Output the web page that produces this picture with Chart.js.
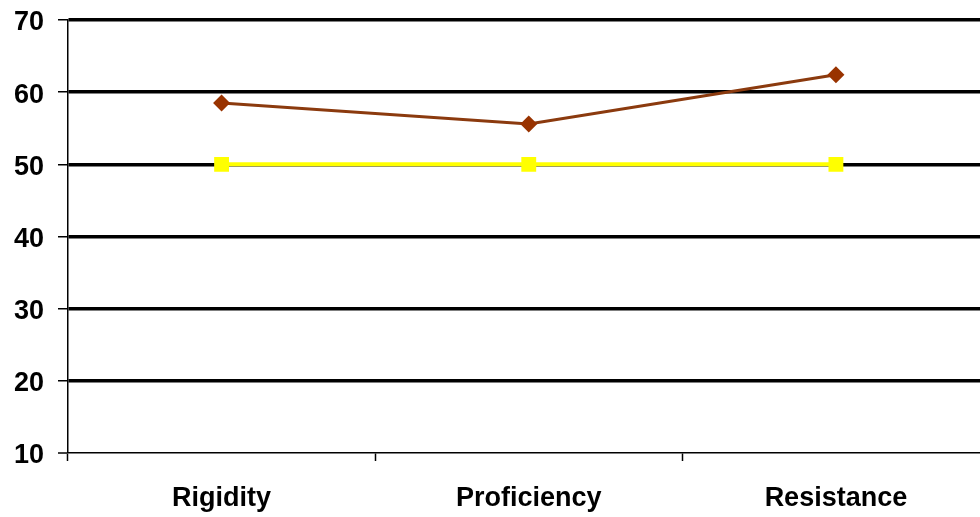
<!DOCTYPE html>
<html>
<head>
<meta charset="utf-8">
<script src="https://cdn.jsdelivr.net/npm/chart.js@4/dist/chart.umd.min.js"></script>
<style>
  html, body { margin: 0; padding: 0; background: #fff; overflow: hidden; }
  #wrap { width: 1000px; height: 517px; }
</style>
</head>
<body>
<div id="wrap"><canvas id="c" width="1000" height="517"></canvas></div>
<script>
// Categories and series values
const categories = ['Rigidity', 'Proficiency', 'Resistance'];
const scoreValues = [58.5, 55.6, 62.4];
const normValues = [50, 50, 50];
const yTicks = [10, 20, 30, 40, 50, 60, 70];

const labelFont = { family: "'Liberation Sans', Arial, sans-serif", size: 27, weight: 'bold' };

new Chart(document.getElementById('c'), {
  type: 'line',
  data: {
    labels: categories,
    datasets: [
      {
        label: 'Score',
        data: scoreValues,
        borderColor: '#8B3A0E',
        backgroundColor: '#993300',
        borderWidth: 3,
        pointStyle: 'rectRot',
        pointRadius: 8.5,
        pointBorderWidth: 0,
        tension: 0
      },
      {
        label: 'Norm',
        data: normValues,
        borderColor: '#FFFF00',
        backgroundColor: '#FFFF00',
        borderWidth: 4,
        pointStyle: 'rect',
        pointRadius: 10.5,
        pointBorderWidth: 0,
        tension: 0
      }
    ]
  },
  options: {
    responsive: false,
    animation: false,
    layout: { padding: { top: 20, right: 10, left: 0, bottom: 0 } },
    plugins: { legend: { display: false }, tooltip: { enabled: false } },
    scales: {
      x: {
        offset: true,
        grid: {
          drawOnChartArea: false,
          drawTicks: true,
          tickLength: 8,
          tickColor: '#000',
          tickWidth: 1.5,
          offset: true
        },
        border: { color: '#000', width: 1.5 },
        ticks: { color: '#000', font: labelFont, padding: 21, maxRotation: 0 },
        afterFit: s => { s.height = 64; }
      },
      y: {
        min: yTicks[0],
        max: yTicks[yTicks.length - 1],
        afterBuildTicks: s => { s.ticks = yTicks.map(v => ({ value: v })); },
        grid: {
          color: '#000',
          lineWidth: ctx => (ctx.tick && ctx.tick.value === yTicks[0]) ? 0 : 3.5,
          drawTicks: true,
          tickLength: 10,
          tickColor: '#000',
          tickWidth: 1.5
        },
        border: { color: '#000', width: 1.5 },
        ticks: { color: '#000', font: labelFont, padding: 14, labelOffset: 3 },
        afterFit: s => { s.width = 68; s.paddingTop = 0; s.paddingBottom = 0; }
      }
    }
  }
});
</script>
</body>
</html>
